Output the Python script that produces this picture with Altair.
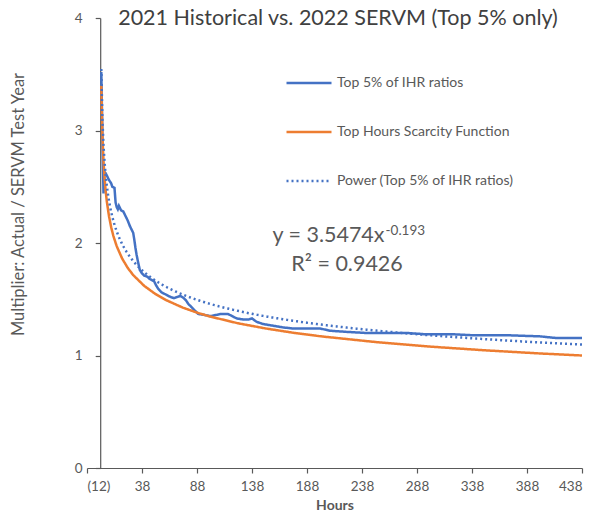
import altair as alt
import pandas as pd

TITLE = "2021 Historical vs. 2022 SERVM (Top 5% only)"
SERIES = [
    "Top 5% of IHR ratios",
    "Top Hours Scarcity Function",
    "Power (Top 5% of IHR ratios)",
]
BLUE = "#4472C4"
ORANGE = "#ED7D31"
GREY = "#595959"
FONT = "Lato"

# Top 5% of IHR ratios, by hour
ihr_hours = [1, 2, 3, 4, 5, 6, 8, 10, 11, 13, 14, 15, 16, 17, 18, 19, 21, 23, 25, 27,
             29, 30, 31, 32, 33, 34, 36, 38, 40, 43, 45, 49, 51, 53, 56, 60, 64, 67,
             70, 73, 76, 78, 80, 83, 86, 89, 95, 100, 105, 110, 116, 120, 124, 130,
             135, 138, 142, 148, 154, 160, 166, 175, 188, 200, 209, 224, 242, 263,
             279, 294, 318, 339, 370, 400, 415, 438]
ihr_ratio = [3.52, 2.95, 2.44, 2.63, 2.62, 2.60, 2.56, 2.53, 2.50, 2.49, 2.36, 2.32,
             2.30, 2.33, 2.31, 2.29, 2.28, 2.24, 2.20, 2.15, 2.11, 2.09, 2.03, 1.96,
             1.90, 1.85, 1.76, 1.73, 1.71, 1.70, 1.68, 1.66, 1.62, 1.59, 1.56, 1.54,
             1.52, 1.51, 1.52, 1.53, 1.51, 1.49, 1.46, 1.43, 1.40, 1.37, 1.36, 1.35,
             1.36, 1.37, 1.37, 1.35, 1.33, 1.32, 1.32, 1.33, 1.30, 1.28, 1.27, 1.26,
             1.25, 1.24, 1.24, 1.24, 1.22, 1.21, 1.20, 1.20, 1.20, 1.19, 1.19, 1.18,
             1.18, 1.17, 1.155, 1.155]

# Top Hours Scarcity Function, by hour
scarcity_hours = [1, 2, 3, 4, 5, 6, 8, 10, 12, 15, 20, 25, 30, 40, 50, 60, 75, 88,
                  100, 125, 150, 175, 200, 250, 300, 350, 400, 438]
scarcity_value = [3.40, 2.957, 2.726, 2.572, 2.460, 2.371, 2.238, 2.139, 2.062, 1.972,
                  1.861, 1.779, 1.715, 1.619, 1.548, 1.492, 1.426, 1.381, 1.346, 1.287,
                  1.241, 1.203, 1.171, 1.120, 1.079, 1.046, 1.018, 1.000]

# Power trendline of the IHR ratios: y = a * x^b
trend_a = 3.5474
trend_b = -0.193
trend_r2 = 0.9426

x_ticks = [-12, 38, 88, 138, 188, 238, 288, 338, 388, 438]
y_ticks = [0, 1, 2, 3, 4]

lines_df = pd.concat([
    pd.DataFrame({"hour": ihr_hours, "value": ihr_ratio, "series": SERIES[0]}),
    pd.DataFrame({"hour": scarcity_hours, "value": scarcity_value, "series": SERIES[1]}),
])

x_enc = alt.X(
    "hour:Q",
    scale=alt.Scale(domain=[-12, 438], nice=False, zero=False),
    axis=alt.Axis(
        values=x_ticks,
        labelExpr="datum.value < 0 ? '(' + abs(datum.value) + ')' : '' + datum.value",
        title="Hours",
        titleFontWeight="bold",
        titleFontSize=14,
        titleColor=GREY,
        titlePadding=6,
        labelPadding=6,
        tickSize=5,
        grid=False,
    ),
)
y_enc = alt.Y(
    "value:Q",
    scale=alt.Scale(domain=[0, 4], nice=False, zero=True),
    axis=alt.Axis(
        values=y_ticks,
        format="d",
        offset=-13.2,
        title="Multiplier: Actual / SERVM Test Year",
        titleFontSize=16.5,
        titleFontWeight="normal",
        titleColor=GREY,
        titleX=-81.7,
        titleY=186,
        titleAngle=-90,
        titleAlign="center",
        titleBaseline="middle",
        labelPadding=13,
        tickSize=5,
        grid=False,
    ),
)

legend = alt.Legend(
    title=None,
    orient="none",
    legendX=198,
    legendY=41,
    symbolType="stroke",
    symbolSize=2025,
    symbolStrokeWidth=2.5,
    labelFont=FONT,
    labelFontSize=14,
    labelColor=GREY,
    labelOffset=4,
    labelLimit=400,
    rowPadding=18,
    padding=0,
)
color_enc = alt.Color(
    "series:N",
    scale=alt.Scale(domain=SERIES, range=[BLUE, ORANGE, BLUE]),
    legend=legend,
)
dash_enc = alt.StrokeDash(
    "series:N",
    scale=alt.Scale(domain=SERIES, range=[[1, 0], [1, 0], [2, 3]]),
    legend=legend,
)

series_lines = alt.Chart(lines_df).mark_line(strokeWidth=2.5).encode(
    x=x_enc, y=y_enc, color=color_enc, strokeDash=dash_enc,
    detail="series:N",
)

trend_line = (
    alt.Chart(alt.sequence(1, 439, 1, as_="hour"))
    .transform_calculate(
        value=f"{trend_a} * pow(datum.hour, {trend_b})",
        series=f"'{SERIES[2]}'",
    )
    .mark_line(strokeWidth=2.5)
    .encode(x=x_enc, y=y_enc, color=color_enc, strokeDash=dash_enc)
)

# Trendline equation and R-squared
eq_main = alt.Chart(pd.DataFrame({"label": [f"y = {trend_a}x"]})).mark_text(
    font=FONT, fontSize=21.5, color=GREY, align="right", baseline="alphabetic"
).encode(x=alt.datum(258.5), y=alt.datum(2.012), text="label:N")

eq_exp = alt.Chart(pd.DataFrame({"label": [f"{trend_b}"]})).mark_text(
    font=FONT, fontSize=13.5, color=GREY, align="left", baseline="alphabetic", dx=1
).encode(x=alt.datum(258.5), y=alt.datum(2.071), text="label:N")

eq_r2 = alt.Chart(pd.DataFrame({"label": [f"R\u00b2 = {trend_r2}"]})).mark_text(
    font=FONT, fontSize=21.5, color=GREY, align="center", baseline="alphabetic"
).encode(x=alt.datum(224.4), y=alt.datum(1.754), text="label:N")

# Chart title, centred over the plot area
title_text = alt.Chart(pd.DataFrame({"label": [TITLE]})).mark_text(
    font=FONT, fontSize=21.5, color="#404040", align="center", baseline="alphabetic"
).encode(x=alt.value(251), y=alt.value(7), text="label:N")

chart = (
    alt.layer(series_lines, trend_line, eq_main, eq_exp, eq_r2, title_text)
    .properties(
        width=495,
        height=450,
        padding={"left": 87, "top": 18, "right": 11, "bottom": 51},
        autosize=alt.AutoSizeParams(type="none"),
    )
    .configure(background="white")
    .configure_view(stroke=None)
    .configure_axis(
        domainColor=GREY,
        tickColor=GREY,
        labelColor=GREY,
        labelFont=FONT,
        labelFontSize=13.5,
        titleFont=FONT,
        domainWidth=1.2,
        tickWidth=1.2,
    )
)

chart.save("out.html", embed_options={"renderer": "svg", "actions": False})
